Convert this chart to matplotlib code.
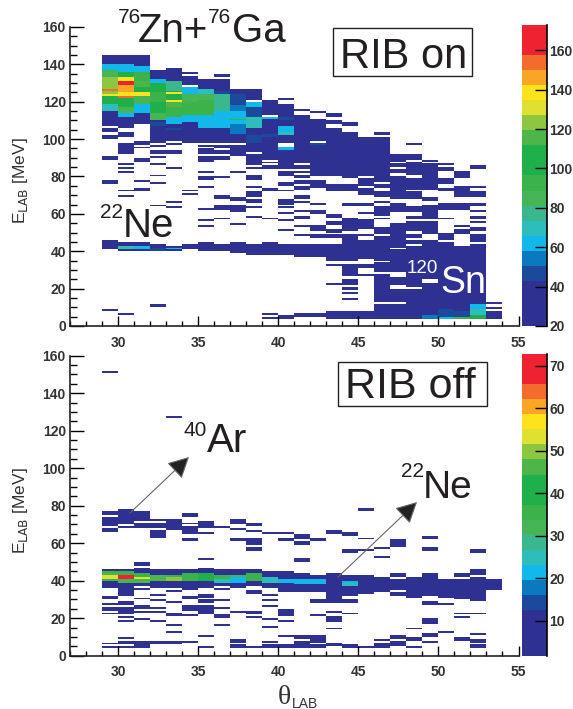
import numpy as np
import matplotlib
matplotlib.use("Agg")
import matplotlib.pyplot as plt
from matplotlib.colors import ListedColormap, BoundaryNorm
from matplotlib.ticker import MultipleLocator
from matplotlib.patches import FancyArrowPatch, Rectangle

plt.rcParams['font.family'] = ['Liberation Sans', 'DejaVu Sans']

W, H = 573, 709
# Runs are (E low, E high) at the dark base level, or (E low, E high, counts)
top_dark = 30
bot_dark = 5
top_runs = {
29: [(140,145),(137,140,62),(133,137,85),(127,133,120),(126,127,152),(124,126,120),(123,124,136),(119,123,100),(115,119,70),(107,115),(104,106),(100,102),(89,91),(76,78),(41,46,38),(8,9)],
30: [(140,145),(136,140,62),(133,136,100),(131,133,136),(129,131,165),(125,129,146),(123,125,136),(122,123,152),(117,122,100),(114,117,85),(112,114,62),(106,112),(101,104),(92,98),(86,87),(84,85),(82,83),(72,73),(69,70),(43,45),(41,43,72),(40,41),(6,7)],
31: [(139,145),(136,139,62),(131,136,92),(128,131,115),(125,128,100),(123,125,136),(119,123,85),(114,119,65),(108,114),(97,99),(95,96),(88,90),(77,78),(72,74),(43,45),(41,43,60),(40,41)],
32: [(132,137),(130,132,60),(125,130,100),(120,125,90),(114,120,105),(110,114,85),(109,110),(107,109,50),(98,107),(96,97),(92,94),(90,91),(86,87),(80,81),(76,77),(64,65),(42,44),(40,42,45),(10,12)],
33: [(136,138),(131,136),(126,131,75),(125,126,100),(124,125,136),(121,124,105),(120,121,136),(117,120,114),(112,117,90),(108,112,60),(106,108),(105,106,45),(99,105),(97,98),(92,94),(84,85),(66,67),(63,64),(42,43),(41,42,60),(40,41)],
34: [(135,136),(129,134),(124,128,62),(120,124,85),(113,120,95),(109,113,60),(98,109),(72,73),(70,71),(41,44)],
35: [(127,132),(124,127,70),(121,124,85),(113,121,95),(106,113,60),(98,106),(96,97),(92,95),(89,91),(88,89),(82,83),(78,80),(74,75),(62,63),(56,57),(53,54),(40,45)],
36: [(133,135),(126,132),(124,126,50),(115,124,75),(109,115,65),(106,109,60),(98,106),(95,97),(92,94),(89,91),(79,80),(68,70),(63,65),(62,63),(57,58),(40,44)],
37: [(124,127),(118,124,50),(115,118,55),(111,115,62),(110,111,90),(108,110,62),(103,108,52),(98,103),(91,97),(82,83),(67,69),(61,65),(54,55),(39,45)],
38: [(121,127),(117,120,62),(112,117,50),(106,112,72),(102,106),(98,102,45),(93,98),(86,92),(84,85),(78,81),(74,75),(69,72),(66,68),(63,64),(58,59),(38,44)],
39: [(113,121),(111,112,62),(103,111),(101,103,50),(89,101),(87,88),(84,86),(72,74),(57,58),(38,45),(6,7),(4,5)],
40: [(121,122),(112,119),(110,112,50),(107,110),(104,107,62),(102,104,70),(98,102),(94,96,62),(84,94),(80,83),(75,77),(72,73),(65,68),(63,64),(60,61),(56,57),(51,52),(38,44),(4,6)],
41: [(115,116),(87,113),(84,86),(82,83),(79,81),(76,78),(73,75),(68,70),(66,67),(61,62),(57,59),(53,54),(48,49),(37,44),(5,7)],
42: [(114,115),(99,111),(97,98,50),(80,97),(74,78),(65,66),(60,62),(51,54),(47,49),(37,44),(5,7)],
43: [(112,114),(108,110),(80,106),(72,76),(58,60),(54,56),(50,52),(47,49),(35,44),(32,33),(22,23),(4,8)],
44: [(107,109),(79,104),(72,76),(64,66),(51,58),(47,49),(35,47),(27,33),(22,25),(19,21),(17,18),(14,15),(4,8)],
45: [(80,101),(75,79),(70,74),(64,66),(60,61),(52,57),(48,49),(36,46),(31,33),(27,28),(4,8)],
46: [(102,104),(77,101),(74,76),(69,72),(66,67),(59,64),(57,58),(49,53),(35,48),(29,34),(19,28),(16,19),(13,16),(4,12)],
47: [(88,92),(85,87),(82,84),(68,80),(61,66),(42,55),(29,41),(22,26),(13,20),(4,12)],
48: [(97,98),(89,92),(81,88),(73,79),(68,72),(61,64),(57,59),(51,56),(47,49),(44,46),(21,43),(4,20)],
49: [(88,89),(73,87),(67,69),(57,65),(49,56),(44,46),(25,44),(6,23),(4,6,55)],
50: [(86,87),(83,85),(76,79),(72,74),(62,66),(57,58),(46,50),(17,45),(9,17),(5,9,45),(4,5,60)],
51: [(79,83),(69,75),(62,66),(53,54),(49,52),(17,43),(8,17),(5,8,48),(4,5,90)],
52: [(84,86),(74,75),(69,72),(64,66),(61,62),(57,59),(55,56),(51,53),(45,49),(12,44),(9,12,62),(6,9,72),(4,6,100)],
53: [(12,13),(9,10),(4,8)],
}
bot_runs = {
29: [(151,152),(75,77),(69,74),(66,68),(45,46),(44,45,34),(43,44,45),(41,43,52),(40,41,34),(36,40),(30,32),(27,28),(24,26),(22,23),(6,7),(4,5)],
30: [(70,78),(68,69),(45,46),(43,45,34),(41,43,70),(39,41,31),(32,39),(27,29),(22,26),(20,21),(18,19),(9,10),(6,8),(4,5)],
31: [(72,77),(68,71),(48,50),(44,47),(42,44,36),(41,42,55),(39,41,32),(37,39),(35,36),(30,31),(25,27),(23,24),(19,20),(4,8)],
32: [(72,73),(68,71),(63,67),(43,46),(40,43,45),(36,40),(32,33),(29,30),(25,26),(23,24),(18,19),(6,8)],
33: [(127,128),(67,73),(43,46),(42,43,35),(40,42,50),(36,40),(34,35),(28,29),(21,23),(16,17),(12,13),(6,8)],
34: [(74,76),(70,71),(65,69),(61,63),(44,46),(40,44,34),(36,40),(35,36),(30,32),(24,27),(21,22),(7,8)],
35: [(68,72),(65,66),(51,52),(44,47),(40,44,38),(36,40),(31,33),(28,30),(22,27),(10,11),(4,5)],
36: [(68,69),(43,46),(41,43,34),(39,41,25),(37,39),(35,36),(29,30),(25,26),(20,22),(16,17)],
37: [(70,73),(67,68),(61,63),(43,46),(42,43,32),(39,42,21),(36,39),(23,24),(7,9),(4,6)],
38: [(69,71),(66,67),(59,63),(56,58),(44,46),(40,44,34),(37,40),(33,35),(22,24),(20,21),(4,5)],
39: [(65,66),(42,45),(39,42,25),(36,39),(32,33),(29,30),(26,27),(19,20),(15,16),(7,8),(4,6)],
40: [(65,66),(61,63),(41,45),(39,41,21),(34,39),(21,25),(18,19),(10,11),(4,6)],
41: [(62,65),(59,61),(50,52),(41,44),(38,41,21),(34,38),(9,11),(4,8)],
42: [(61,63),(41,43),(38,41,21),(34,38),(28,30),(21,22),(7,11),(4,6)],
43: [(65,67),(40,44),(39,40,9),(30,39),(28,30),(23,24),(18,21),(14,15),(5,7)],
44: [(64,66),(55,57),(40,43),(39,40,21),(37,39,25),(32,37),(28,30),(22,23),(4,6)],
45: [(77,79),(62,63),(56,57),(33,43),(4,5)],
46: [(57,58),(52,53),(34,42),(38,39,9),(8,9),(4,7)],
47: [(58,62),(42,44),(35,41),(32,34),(9,11),(5,8)],
48: [(31,42),(14,15),(8,10),(4,5)],
49: [(62,64),(56,58),(32,44),(27,29),(17,20),(10,12),(7,8)],
50: [(31,41),(27,28),(12,13)],
51: [(42,44),(30,41),(22,23),(20,21),(8,10)],
52: [(55,57),(43,46),(29,42),(22,23),(11,12),(7,9),(4,6)],
53: [(35,41)],
}

palette = ['#2e3192','#2e3192','#2e3192','#1b4a9c','#0a79c0','#13b8ea','#2dbdbb','#3ab78f',
           '#46b556','#3bb24a','#1fb04b','#1fb04b','#4cb748','#8dc63f','#dfe030','#fde21c',
           '#faa526','#f26d2b','#ee2230','#ee2230']
top_range = (20, 172.8)
bot_range = (1.8, 72.8)
top_ticks = [20, 40, 60, 80, 100, 120, 140, 160]
bot_ticks = [10, 20, 30, 40, 50, 60, 70]
xticks = [30, 35, 40, 45, 50, 55]
yticks = [0, 20, 40, 60, 80, 100, 120, 140, 160]


def grid(runs, dark):
    z = np.full((160, 28), np.nan)
    for col, items in runs.items():
        for r in items:
            v = r[2] if len(r) == 3 else dark
            z[r[0]:r[1], col - 27] = v
    return np.ma.masked_invalid(z)


def axpx(l, t, r, b):
    return fig.add_axes([l / W, 1 - b / H, (r - l) / W, (b - t) / H])


def panel(ytop, ybot, runs, dark, vr, cticks):
    ax = axpx(70, ytop, 518.5, ybot)
    cmap = ListedColormap(palette)
    norm = BoundaryNorm(np.linspace(vr[0], vr[1], 21), 20)
    x = np.arange(27, 56)
    y = np.arange(0, 161)
    m = ax.pcolormesh(x, y, grid(runs, dark), cmap=cmap, norm=norm, antialiased=False)
    ax.set_xlim(27, 55)
    ax.set_ylim(0, 160)
    for s in ('top', 'right'):
        ax.spines[s].set_visible(False)
    for s in ('left', 'bottom'):
        ax.spines[s].set_linewidth(1.2)
        ax.spines[s].set_color('#222222')
    ax.set_xticks(xticks)
    ax.set_yticks(yticks)
    ax.xaxis.set_minor_locator(MultipleLocator(1))
    ax.yaxis.set_minor_locator(MultipleLocator(5))
    ax.tick_params(axis='x', which='major', direction='in', length=7.2, width=1, labelsize=10, pad=7, labelcolor='#333333')
    ax.tick_params(axis='x', which='minor', direction='in', length=3.6, width=1)
    ax.tick_params(axis='y', which='major', direction='in', length=10, width=1, labelsize=10, pad=3, labelcolor='#333333')
    ax.tick_params(axis='y', which='minor', direction='in', length=5, width=1)
    for t in ax.get_xticklabels() + ax.get_yticklabels():
        t.set_fontweight('bold')
    cax = axpx(522, ytop - 2, 546.7, ybot)
    cb = fig.colorbar(m, cax=cax, spacing='proportional', ticks=cticks, drawedges=False)
    cb.outline.set_visible(False)
    cax.spines['right'].set_visible(True)
    cax.spines['right'].set_linewidth(1.2)
    cax.tick_params(which='major', axis='y', direction='in', length=9, width=1, labelsize=10, pad=2, labelcolor='#333333')
    cax.tick_params(which='minor', length=0)
    for t in cax.get_yticklabels():
        t.set_fontweight('bold')
    return ax


def label(x, y, s, size, color='#231f20', **kw):
    kw.setdefault('ha', 'left')
    kw.setdefault('va', 'baseline')
    return fig.text(x / W, 1 - y / H, s, fontsize=size, color=color, **kw)


def box(l, t, r, b):
    fig.add_artist(Rectangle((l / W, 1 - b / H), (r - l) / W, (b - t) / H, transform=fig.transFigure,
                             fc='white', ec='#222222', lw=1, zorder=3))


fig = plt.figure(figsize=(W / 100, H / 100), dpi=100)
panel(27, 326, top_runs, top_dark, top_range, top_ticks)
panel(355.7, 655.7, bot_runs, bot_dark, bot_range, bot_ticks)

# y axis titles
for yc in (181, 511):
    label(20, yc, 'E$_{\\mathrm{LAB}}$ [MeV]', 12.5, color='#333333', rotation=90, ha='center', va='center')
label(278, 704, '\u03b8', 20, color='#333333', family='Liberation Serif')
label(292, 708, 'LAB', 10, color='#333333')

# annotations
label(118, 23, '76', 15)
label(138, 42, 'Zn+', 29)
label(208, 23, '76', 15)
label(232, 42, 'Ga', 29)
label(100, 218, '22', 15)
label(123, 237, 'Ne', 29)
label(184, 436, '40', 15)
label(207, 452, 'Ar', 29)
label(401, 477, '22', 15)
label(423, 498, 'Ne', 28)
label(407, 273, '120', 13.5, color='white')
label(440, 293, 'Sn', 27, color='white')

box(333, 28, 472, 76)
box(338, 362, 487, 406)
label(340, 68, 'RIB on', 30, zorder=4)
label(345, 398, 'RIB off', 31, zorder=4)

for p0, p1 in (((130, 513), (189, 457)), ((338, 577), (417, 502))):
    fig.add_artist(FancyArrowPatch((p0[0] / W, 1 - p0[1] / H), (p1[0] / W, 1 - p1[1] / H),
                                   transform=fig.transFigure, arrowstyle='-|>,head_length=5,head_width=2.6',
                                   mutation_scale=2.6, color='#222222', lw=0.8, ec='#666666', fc='#222222',
                                   shrinkA=0, shrinkB=0))

fig.savefig('out.png', dpi=100)
